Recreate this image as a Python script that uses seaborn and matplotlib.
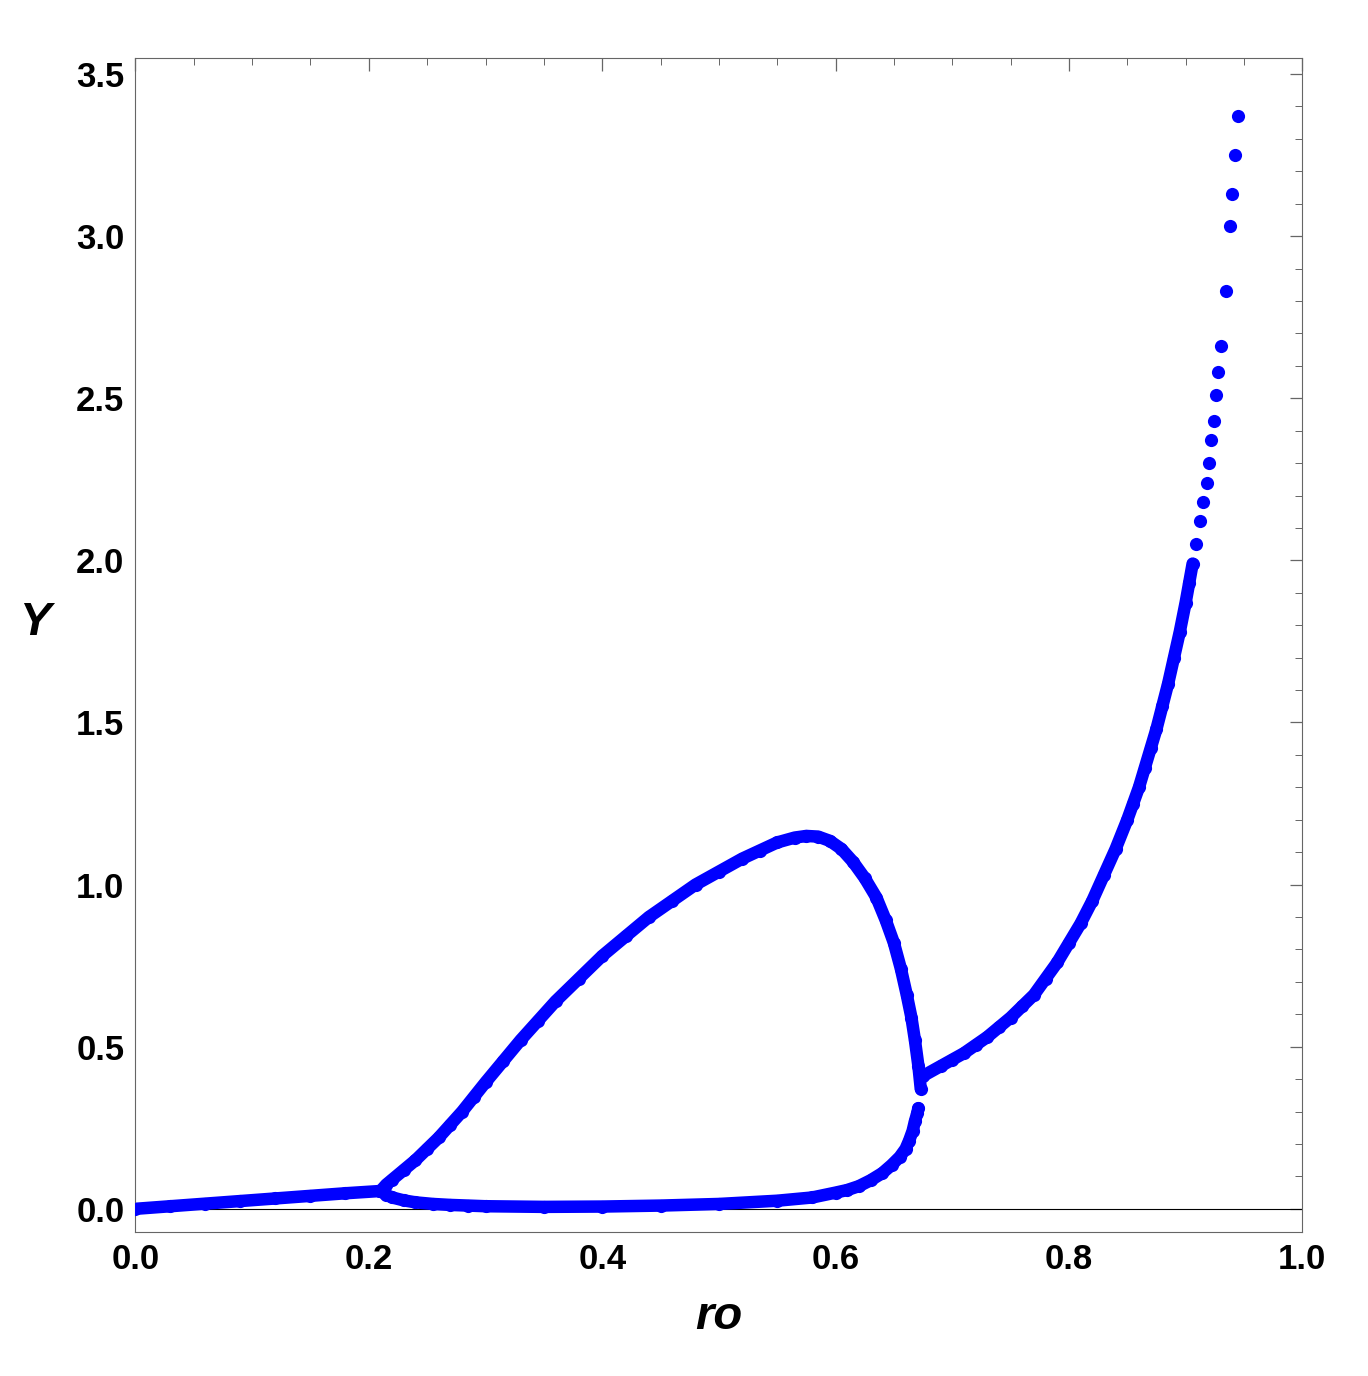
import matplotlib
matplotlib.use("Agg")
import matplotlib.pyplot as plt
import seaborn as sns
from matplotlib.ticker import MultipleLocator

# branches of the bifurcation diagram
base_ro = [0.0, 0.03, 0.06, 0.09, 0.12, 0.15, 0.18, 0.21]
base_y = [0.0, 0.008, 0.016, 0.024, 0.032, 0.040, 0.048, 0.055]

upper_ro = [0.21, 0.215, 0.22, 0.23, 0.24, 0.25, 0.26, 0.27, 0.28, 0.29, 0.30, 0.315, 0.33,
            0.345, 0.36, 0.38, 0.40, 0.42, 0.44, 0.46, 0.48, 0.50, 0.52, 0.535, 0.55,
            0.565, 0.575, 0.585, 0.595, 0.605, 0.615, 0.625, 0.635, 0.643, 0.65, 0.656,
            0.661, 0.665, 0.668, 0.671, 0.673]
upper_y = [0.055, 0.075, 0.09, 0.12, 0.15, 0.185, 0.22, 0.26, 0.30, 0.345, 0.39, 0.455, 0.52,
           0.58, 0.64, 0.71, 0.78, 0.84, 0.90, 0.95, 1.00, 1.04, 1.08, 1.105, 1.13,
           1.145, 1.15, 1.148, 1.135, 1.11, 1.07, 1.02, 0.96, 0.89, 0.82, 0.74,
           0.66, 0.59, 0.52, 0.44, 0.37]

lower_ro = [0.21, 0.215, 0.22, 0.23, 0.24, 0.255, 0.27, 0.285, 0.30, 0.35, 0.40, 0.45,
            0.50, 0.55, 0.58, 0.60, 0.61, 0.62, 0.63, 0.64, 0.648, 0.655, 0.66, 0.663,
            0.666, 0.668, 0.67, 0.671]
lower_y = [0.055, 0.043, 0.035, 0.026, 0.02, 0.015, 0.012, 0.01, 0.008, 0.006, 0.007, 0.01,
           0.015, 0.025, 0.035, 0.05, 0.058, 0.07, 0.088, 0.11, 0.135, 0.16, 0.185, 0.21,
           0.24, 0.27, 0.295, 0.31]

right_ro = [0.675, 0.69, 0.70, 0.71, 0.72, 0.73, 0.74, 0.75, 0.76, 0.77, 0.78, 0.79, 0.80,
            0.81, 0.82, 0.83, 0.84, 0.85, 0.855, 0.86, 0.865, 0.87, 0.875, 0.88, 0.885,
            0.89, 0.895, 0.90, 0.903, 0.906, 0.909, 0.912, 0.915, 0.918, 0.92, 0.922,
            0.925, 0.928, 0.930, 0.935, 0.938, 0.940, 0.942, 0.945]
right_y = [0.41, 0.44, 0.46, 0.48, 0.505, 0.53, 0.56, 0.59, 0.625, 0.66, 0.71, 0.76, 0.82,
           0.88, 0.95, 1.03, 1.11, 1.20, 1.25, 1.30, 1.36, 1.42, 1.48, 1.55, 1.62,
           1.70, 1.78, 1.87, 1.93, 1.99, 2.05, 2.12, 2.18, 2.24, 2.30, 2.37,
           2.43, 2.51, 2.58, 2.66, 2.83, 3.03, 3.13, 3.25, 3.37][:44]
right_y = [0.41, 0.44, 0.46, 0.48, 0.505, 0.53, 0.56, 0.59, 0.625, 0.66, 0.71, 0.76, 0.82,
           0.88, 0.95, 1.03, 1.11, 1.20, 1.25, 1.30, 1.36, 1.42, 1.48, 1.55, 1.62,
           1.70, 1.78, 1.87, 1.93, 1.99, 2.05, 2.12, 2.18, 2.24, 2.30, 2.37,
           2.43, 2.51, 2.58, 2.66, 2.83, 3.03, 3.13, 3.25, 3.37]
right_ro = right_ro + [0.946]
right_ro = [0.675, 0.69, 0.70, 0.71, 0.72, 0.73, 0.74, 0.75, 0.76, 0.77, 0.78, 0.79, 0.80,
            0.81, 0.82, 0.83, 0.84, 0.85, 0.855, 0.86, 0.865, 0.87, 0.875, 0.88, 0.885,
            0.89, 0.895, 0.90, 0.903, 0.906, 0.909, 0.912, 0.915, 0.918, 0.92, 0.922,
            0.924, 0.926, 0.928, 0.930, 0.935, 0.938, 0.940, 0.942, 0.945]

sns.set_style("white")
plt.rcParams['font.family'] = ['Liberation Sans', 'DejaVu Sans']
plt.rcParams['text.color'] = 'black'
plt.rcParams['axes.labelcolor'] = 'black'

fig, ax = plt.subplots(figsize=(13.68, 13.76), dpi=100)
blue = "#0000ff"

dense = [(base_ro, base_y), (upper_ro, upper_y), (lower_ro, lower_y),
         (right_ro[:30], right_y[:30])]
for xs, ys in dense:
    sns.lineplot(x=xs, y=ys, sort=False, color=blue, linewidth=9,
                 solid_capstyle="round", solid_joinstyle="round", ax=ax)
for xs, ys in [(base_ro, base_y), (upper_ro, upper_y), (lower_ro, lower_y), (right_ro, right_y)]:
    sns.scatterplot(x=xs, y=ys, color=blue, s=90, edgecolor=blue, linewidth=0, ax=ax, zorder=3)

ax.axhline(0, color="black", linewidth=0.8, zorder=1)
ax.set_xlim(0, 1.0)
ax.set_ylim(-0.07, 3.55)
ax.xaxis.set_major_locator(MultipleLocator(0.2))
ax.xaxis.set_minor_locator(MultipleLocator(0.05))
ax.yaxis.set_major_locator(MultipleLocator(0.5))
ax.yaxis.set_minor_locator(MultipleLocator(0.1))
ax.tick_params(which="both", direction="in", top=True, right=True, color="#666666",
               labelcolor="black")
ax.tick_params(which="major", length=9, width=0.9, labelsize=25, pad=8)
ax.tick_params(which="minor", length=5, width=0.7)
ax.xaxis.set_major_formatter(plt.FuncFormatter(lambda v, p: f"{v:.1f}"))
ax.yaxis.set_major_formatter(plt.FuncFormatter(lambda v, p: f"{v:.1f}"))
for lab in ax.get_xticklabels() + ax.get_yticklabels():
    lab.set_fontweight("bold")
for sp in ax.spines.values():
    sp.set_color("#666666")
    sp.set_linewidth(0.8)

ax.set_xlabel("ro", fontsize=34, fontweight="bold", fontstyle="italic", labelpad=14)
ax.set_ylabel("Y", fontsize=34, fontweight="bold", fontstyle="italic", rotation=0, labelpad=30)

fig.subplots_adjust(left=0.099, right=0.952, top=0.958, bottom=0.105)
fig.savefig("out.png", dpi=100)
